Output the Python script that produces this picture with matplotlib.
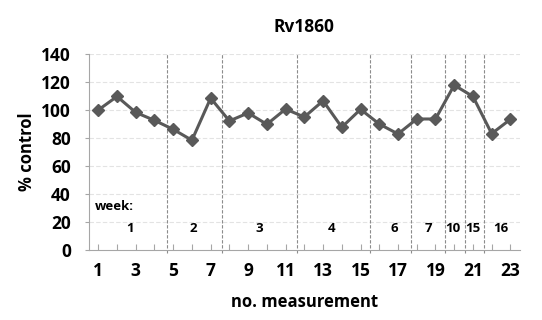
import matplotlib
matplotlib.use("Agg")
import numpy as np
import matplotlib.pyplot as plt

plt.rcParams['font.family'] = ['Open Sans', 'DejaVu Sans']
plt.rcParams['font.weight'] = 'bold'

measurement = np.arange(1, 24)
control = [100, 109.7, 98.3, 92.6, 86.2, 78.4, 108.5, 92.2, 97.9, 89.8, 100.7, 95.0,
           106.6, 87.7, 100.5, 90.0, 82.9, 93.6, 93.6, 117.8, 109.7, 83.1, 93.4]

# week separators and labels
week_breaks = [4.65, 7.6, 11.6, 15.5, 17.7, 19.5, 20.55, 21.6]
week_names = ["1", "2", "3", "4", "6", "7", "10", "15", "16"]
week_pos = [2.67, 6.05, 9.58, 13.47, 16.78, 18.63, 19.93, 21.0, 22.5]

fig = plt.figure(figsize=(5.42, 3.2), dpi=100)
ax = fig.add_axes([0.164, 0.219, 0.795, 0.612])

for y in range(20, 141, 20):
    ax.axhline(y, color="#e3e3e3", lw=0.8, ls=(0, (4, 2)), zorder=0)
for b in week_breaks:
    ax.plot([b, b], [-2, 140], color="#8c8c8c", lw=0.8, ls=(0, (3, 1.5)),
            clip_on=False, zorder=1)

ax.plot(measurement, control, color="#595959", lw=2.2, marker="D", ms=6.5,
        markeredgecolor="#595959", zorder=3)

ax.text(0.8, 31, "week:", fontsize=9.5, fontweight="bold", ha="left", va="center")
for name, p in zip(week_names, week_pos):
    ax.text(p, 15, name, fontsize=9.5, fontweight="bold", ha="center", va="center")

ax.set_xlim(0.5, 23.5)
ax.set_ylim(0, 140)
ax.set_xticks(measurement)
ax.set_xticklabels([str(m) if m % 2 == 1 else "" for m in measurement])
ax.set_yticks(range(0, 141, 20))
ax.tick_params(axis="x", direction="in", length=4, color="#a6a6a6", pad=9, labelsize=12.5)
ax.tick_params(axis="y", direction="out", length=3, color="#a6a6a6", pad=10, labelsize=12.5)

for s in ["top", "right"]:
    ax.spines[s].set_visible(False)
for s in ["left", "bottom"]:
    ax.spines[s].set_color("#a6a6a6")

ax.set_title("Rv1860", fontsize=12.5, fontweight="bold", pad=16)
ax.set_xlabel("no. measurement", fontsize=12, fontweight="bold", labelpad=9)
ax.set_ylabel("% control", fontsize=12, fontweight="bold", labelpad=4)

fig.savefig("out.png", dpi=100)
